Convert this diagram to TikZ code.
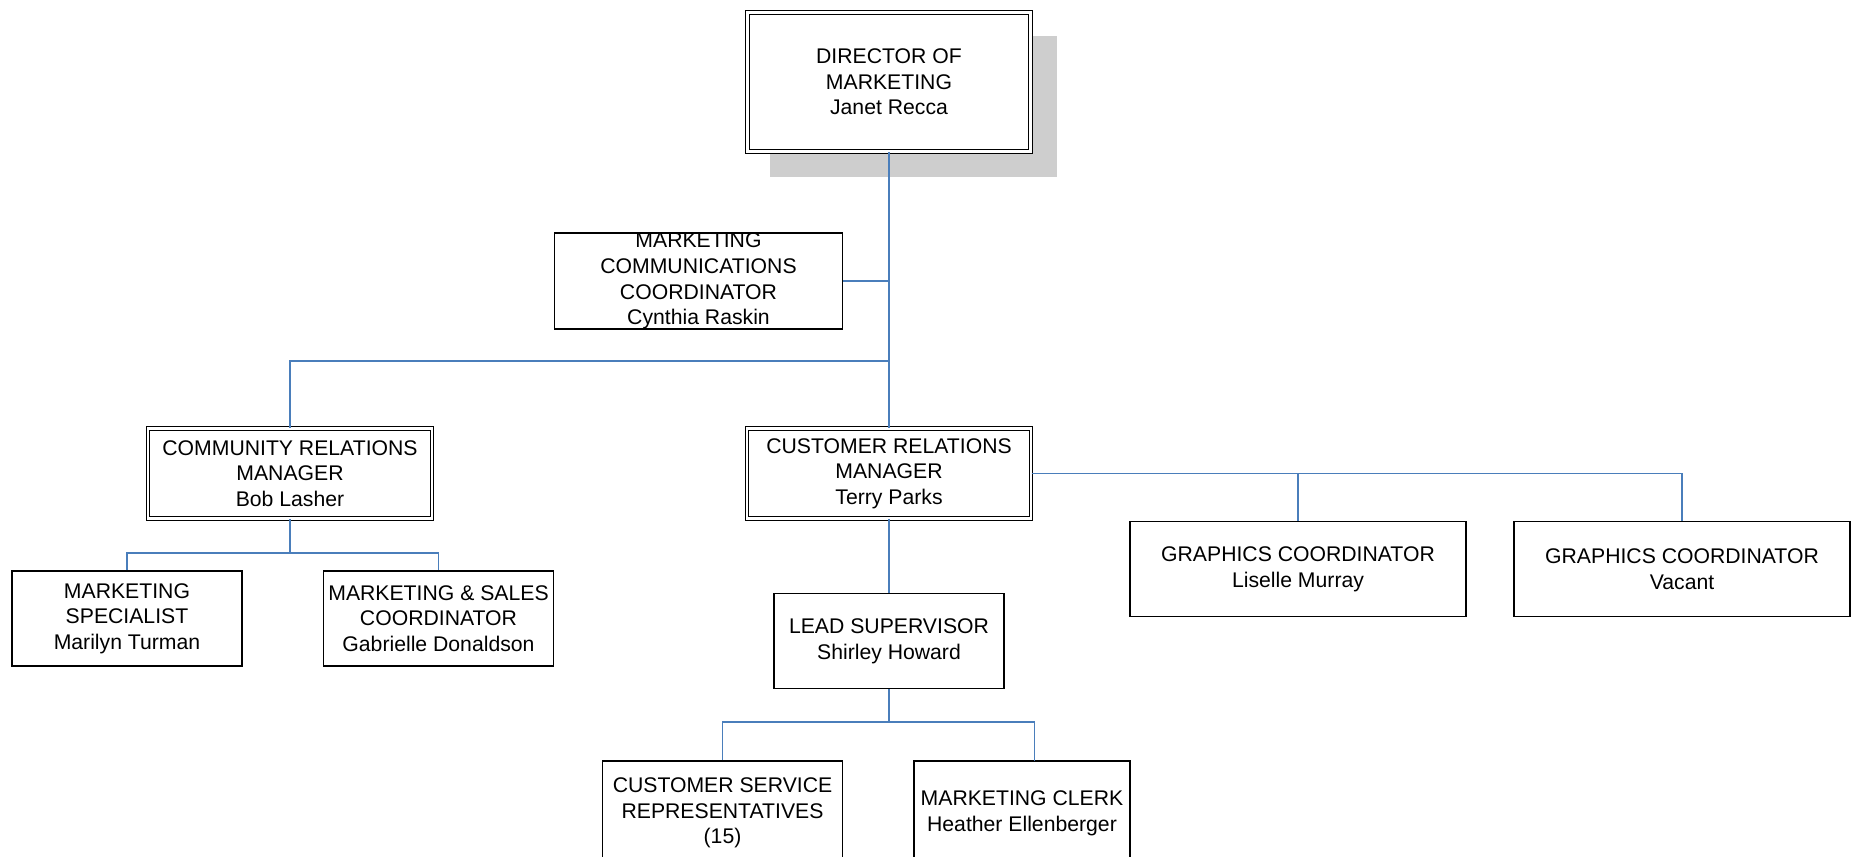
\documentclass[tikz,border=0pt]{standalone}
\usepackage{fontspec}
\setmainfont{Liberation Sans}
\usetikzlibrary{shadows}

\definecolor{linkblue}{RGB}{74,126,187}
\definecolor{shadowgray}{RGB}{206,206,206}

\tikzset{every picture/.style={line width=0.75pt}}
\tikzset{
  box/.style={draw, rectangle, line width=0.8pt, align=center, inner sep=0pt,
    minimum height=47.5pt, font=\fontsize{10.6}{12.8}\selectfont},
  mgrbox/.style={box, line width=0.6pt, double, double distance=1.2pt},
  link/.style={draw=linkblue, line width=0.8pt}
}

\begin{document}
\begin{tikzpicture}[x=0.5pt,y=0.5pt,yscale=-1,xscale=1]
\useasboundingbox (0,0) rectangle (1856,856);
\clip (0,0) rectangle (1856,856);

%Director
\node [mgrbox, minimum width=141.6pt, minimum height=69.6pt, fill=white,
  drop shadow={shadow xshift=12pt, shadow yshift=-12pt, shadow scale=1.015, fill=shadowgray, opacity=1}]
  (dir) at (889,82) {DIRECTOR OF\\MARKETING\\Janet Recca};

%Staff
\node [box, minimum width=144pt] (comm) at (698.5,281)
  {MARKETING\\COMMUNICATIONS\\COORDINATOR\\Cynthia Raskin};

%Managers
\node [mgrbox, minimum width=142pt, minimum height=45pt] (comrel) at (290,473.5)
  {COMMUNITY RELATIONS\\MANAGER\\Bob Lasher};
\node [mgrbox, minimum width=142pt, minimum height=45pt] (cusrel) at (889,473.5)
  {CUSTOMER RELATIONS\\MANAGER\\Terry Parks};

%Community relations staff
\node [box, minimum width=115pt] (spec) at (127,618.5)
  {MARKETING\\SPECIALIST\\Marilyn Turman};
\node [box, minimum width=115pt] (mands) at (438.5,618.5)
  {MARKETING \& SALES\\COORDINATOR\\Gabrielle Donaldson};

%Customer relations staff
\node [box, minimum width=115pt] (lead) at (889,641)
  {LEAD SUPERVISOR\\Shirley Howard};
\node [box, minimum width=168pt] (graph1) at (1298,569)
  {GRAPHICS COORDINATOR\\Liselle Murray};
\node [box, minimum width=168pt] (graph2) at (1682,569)
  {GRAPHICS COORDINATOR\\Vacant};

%Lead supervisor staff
\node [box, minimum width=120pt, minimum height=52pt] (csr) at (722.5,813)
  {CUSTOMER SERVICE\\REPRESENTATIVES\\(15)};
\node [box, minimum width=108pt, minimum height=52pt] (clerk) at (1022,813)
  {MARKETING CLERK\\Heather Ellenberger};

%Connectors
\coordinate (mgrfork) at (889,361);
\coordinate (crfork) at (290,553);
\coordinate (lsfork) at (889,722);
\coordinate (clerkin) at (1034.6,761);

\draw [link] (dir.south) -- (cusrel.north);
\draw [link] (comm.east) -- (comm.east -| dir.south);
\draw [link] (comrel.north) |- (mgrfork);
\draw [link] (comrel.south) -- (crfork);
\draw [link] (spec.north) |- (crfork) -| (mands.north);
\draw [link] (cusrel.east) -| (graph2.north);
\draw [link] (graph1.north) -- (graph1.north |- cusrel.east);
\draw [link] (cusrel.south) -- (lead.north);
\draw [link] (lead.south) -- (lsfork);
\draw [link] (csr.north) |- (lsfork) -| (clerkin);

\end{tikzpicture}
\end{document}
